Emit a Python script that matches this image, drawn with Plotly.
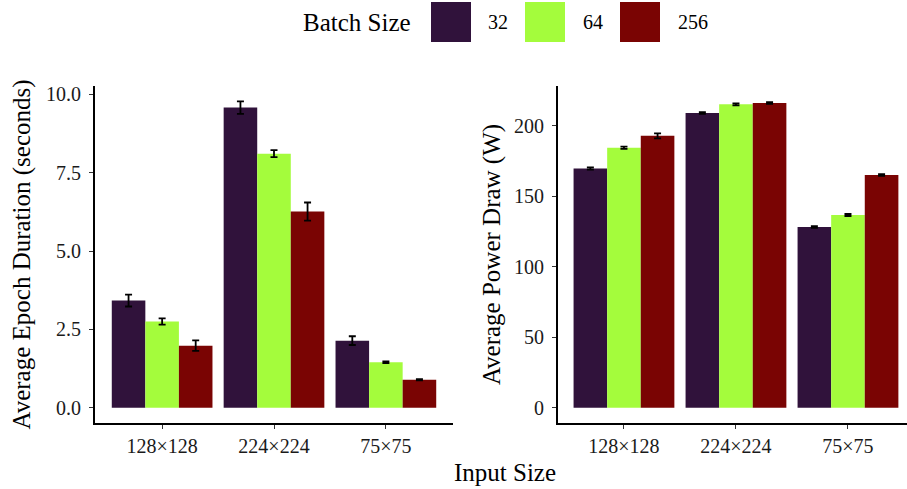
import plotly.graph_objects as go

# ---- data ----
input_sizes = ["128×128", "224×224", "75×75"]
batch_sizes = ["32", "64", "256"]
colors = ["#30123B", "#A4FC3C", "#7A0403"]

epoch_mean = {
    "32": [3.42, 9.58, 2.14],
    "64": [2.75, 8.11, 1.45],
    "256": [1.98, 6.26, 0.89],
}
epoch_err = {
    "32": [0.19, 0.20, 0.14],
    "64": [0.10, 0.11, 0.03],
    "256": [0.17, 0.29, 0.02],
}
power_mean = {
    "32": [169.8, 209.3, 128.2],
    "64": [184.6, 215.4, 136.8],
    "256": [193.0, 216.4, 165.2],
}
power_err = {
    "32": [0.8, 0.6, 0.6],
    "64": [0.8, 0.7, 0.7],
    "256": [1.8, 0.6, 0.6],
}
y1_ticks = [0, 2.5, 5, 7.5, 10]
y1_ticklabels = ["0.0", "2.5", "5.0", "7.5", "10.0"]
y2_ticks = [0, 50, 100, 150, 200]

FONT = "Liberation Serif"
W, H = 907, 489
mt, mb = 86, 66
TICK = 20
TITLE = 25

fig = go.Figure()
for b, c in zip(batch_sizes, colors):
    fig.add_trace(go.Bar(
        x=input_sizes, y=epoch_mean[b], name=b, marker=dict(color=c, line=dict(width=0)),
        error_y=dict(type="data", array=epoch_err[b], color="black", thickness=1.8, width=3.5),
        xaxis="x", yaxis="y", showlegend=False, offsetgroup=b,
    ))
    fig.add_trace(go.Bar(
        x=input_sizes, y=power_mean[b], name=b, marker=dict(color=c, line=dict(width=0)),
        error_y=dict(type="data", array=power_err[b], color="black", thickness=1.8, width=3.5),
        xaxis="x2", yaxis="y2", showlegend=False, offsetgroup=b,
    ))

axis_common = dict(
    showline=True, linecolor="black", linewidth=1.8, ticks="outside", ticklen=4,
    tickcolor="#333333", tickwidth=1.3, showgrid=False, zeroline=False,
    tickfont=dict(family=FONT, size=TICK, color="#1a1a1a"),
)

fig.update_layout(
    width=W, height=H,
    margin=dict(l=0, r=0, t=mt, b=mb),
    plot_bgcolor="white", paper_bgcolor="white",
    barmode="group", bargap=0.1, bargroupgap=0,
    xaxis=dict(domain=[95 / W, 453 / W], range=[-0.6, 2.6], type="category",
               categoryorder="array", categoryarray=input_sizes, anchor="y", **axis_common),
    yaxis=dict(domain=[0, 1], range=[-0.49, 10.27], tickvals=y1_ticks, ticktext=y1_ticklabels,
               anchor="x", ticklabelstandoff=4,
               title=dict(text="Average Epoch Duration (seconds)",
                          font=dict(family=FONT, size=TITLE, color="black"), standoff=8),
               **axis_common),
    xaxis2=dict(domain=[558 / W, 1.0], range=[-0.589, 2.527], type="category",
                categoryorder="array", categoryarray=input_sizes, anchor="y2", **axis_common),
    yaxis2=dict(domain=[0, 1], range=[-10.9, 228.4], tickvals=y2_ticks,
                anchor="x2", ticklabelstandoff=4,
                title=dict(text="Average Power Draw (W)",
                           font=dict(family=FONT, size=TITLE, color="black"), standoff=6),
                **axis_common),
)

# shared x title
ph = H - mt - mb
def py(p):
    return (H - mb - p) / ph

fig.add_annotation(text="Input Size", xref="paper", yref="paper", x=505 / W, y=py(472),
                   showarrow=False, font=dict(family=FONT, size=TITLE, color="black"),
                   xanchor="center", yanchor="middle")

# custom legend
fig.add_annotation(text="Batch Size", xref="paper", yref="paper", x=357 / W, y=py(22),
                   showarrow=False, font=dict(family=FONT, size=TITLE, color="black"),
                   xanchor="center", yanchor="middle")
sw_x = [431, 525, 620]
lab_x = [486, 581, 676]
for b, c, sx, lx in zip(batch_sizes, colors, sw_x, lab_x):
    fig.add_shape(type="rect", xref="paper", yref="paper", x0=sx / W, x1=(sx + 40) / W,
                  y0=py(42), y1=py(2), fillcolor=c, line=dict(width=0))
    fig.add_annotation(text=b, xref="paper", yref="paper", x=lx / W, y=py(22),
                       showarrow=False, font=dict(family=FONT, size=TICK, color="black"),
                       xanchor="left", yanchor="middle")

fig.write_html("out.html")
